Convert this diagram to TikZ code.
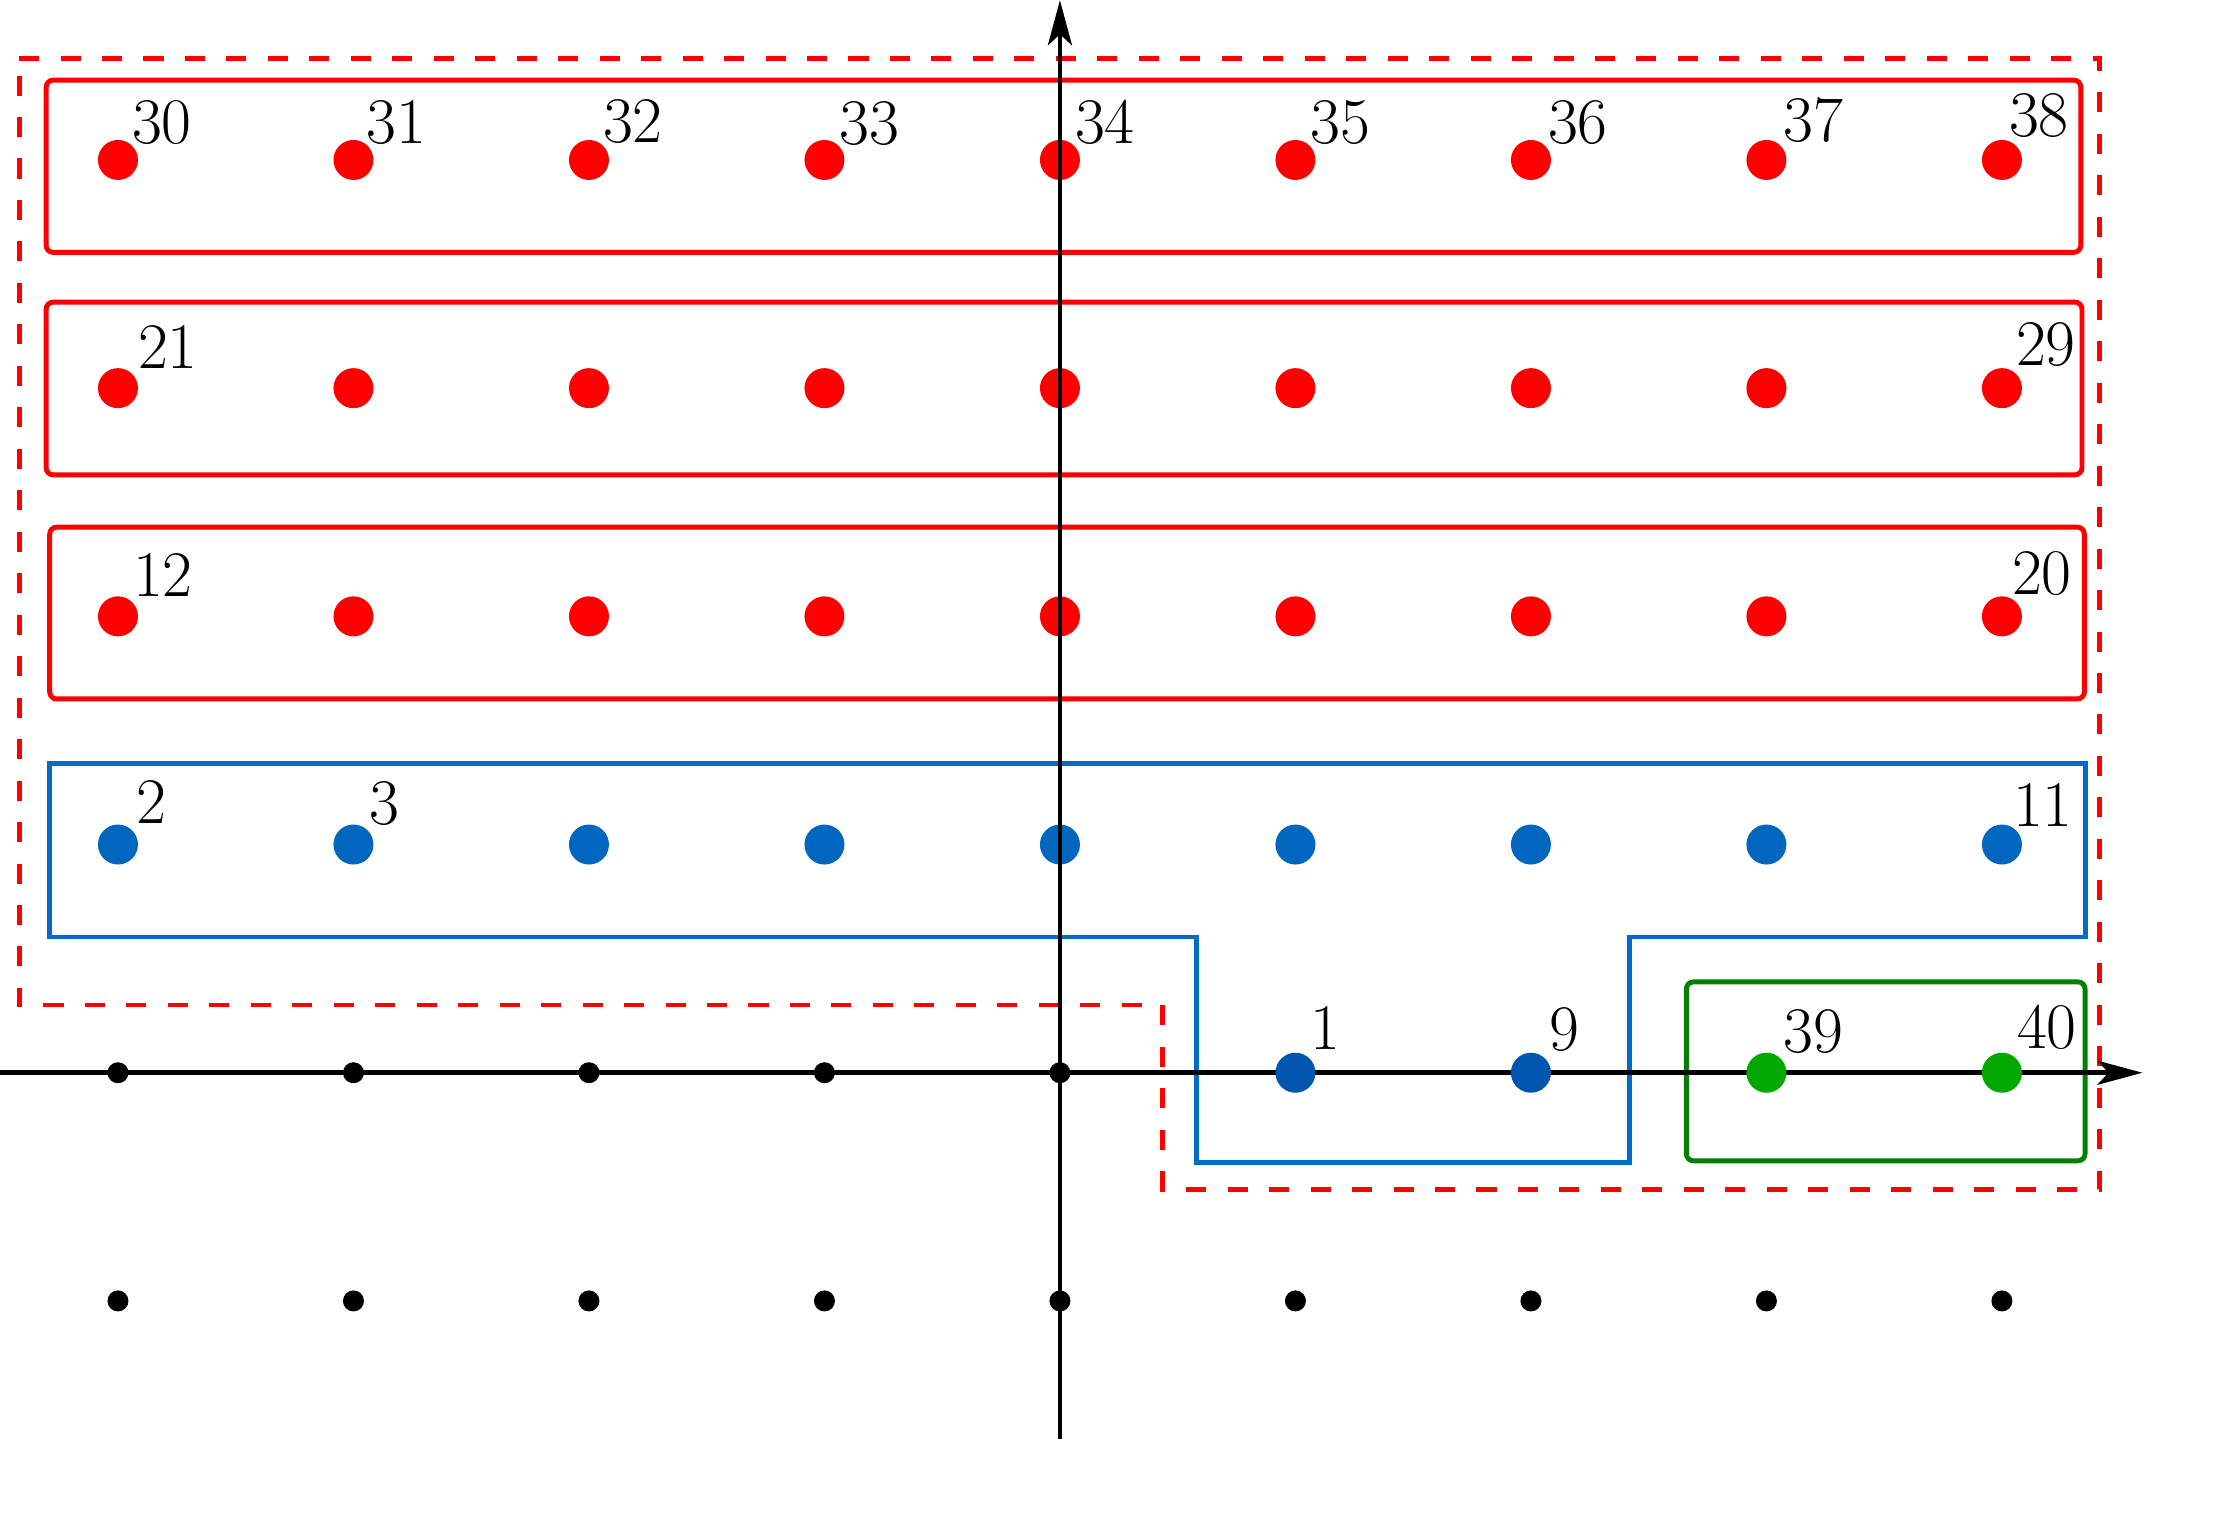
\documentclass[tikz,border=0pt]{standalone}
\usetikzlibrary{arrows.meta,calc}
\definecolor{dotblue}{RGB}{0,102,190}
\definecolor{dotblueb}{RGB}{0,85,175}
\definecolor{dotgreen}{RGB}{0,168,0}
\definecolor{boxgreen}{RGB}{0,128,0}
\definecolor{lineblue}{RGB}{0,108,200}
\begin{document}
\begin{tikzpicture}[x=2.355cm,y=2.282cm,
  dotbig/.style={circle,inner sep=0pt,minimum size=0.40cm},
  dotsmall/.style={circle,fill=black,inner sep=0pt,minimum size=0.21cm},
  redbox/.style={draw=red,line width=1.4pt,rounded corners=2pt},
  bluebox/.style={draw=lineblue,line width=1.4pt},
  greenbox/.style={draw=boxgreen,line width=1.4pt,rounded corners=2pt},
  reddash/.style={draw=red,line width=1.4pt,dash pattern=on 5.7pt off 6.1pt},
  lbl/.style={font=\fontsize{18.5}{22}\selectfont,inner sep=0pt},
  axisline/.style={line width=1.35pt,-{Stealth[length=4.5mm,width=2.4mm,inset=1.1mm]}}]
\useasboundingbox (-4.501,-1.960) rectangle (4.960,4.701);
% boxes
\draw[redbox] (-4.305,3.595) rectangle (4.335,4.350);
\draw[redbox] (-4.305,2.620) rectangle (4.340,3.377);
\draw[redbox] (-4.290,1.638) rectangle (4.350,2.391);
\draw[bluebox] (-4.292,1.357) -- (4.353,1.357) -- (4.353,0.595) -- (2.420,0.595)
  -- (2.420,-0.392) -- (0.579,-0.392) -- (0.579,0.595) -- (-4.292,0.595) -- cycle;
\draw[greenbox] (2.660,-0.386) rectangle (4.353,0.398);
\draw[reddash] (-4.420,4.446) -- (4.416,4.446) -- (4.416,-0.511) -- (0.437,-0.511)
  -- (0.437,0.297) -- (-4.420,0.297) -- cycle;
% x axis
\coordinate (xs) at (-4.50,0);
\coordinate (xe) at (4.597,0);
\draw[axisline] (xs) -- (xe);
% dots
\foreach \c in {0,...,8} {
  \node[dotbig,fill=red] (p\c5) at (\c-4,4) {};
  \node[dotbig,fill=red] (p\c4) at (\c-4,3) {};
  \node[dotbig,fill=red] (p\c3) at (\c-4,2) {};
  \node[dotbig,fill=dotblue] (p\c2) at (\c-4,1) {};
  \node[dotsmall] (p\c0) at (\c-4,-1) {};
}
\foreach \c in {0,...,4} { \node[dotsmall] (p\c1) at (\c-4,0) {}; }
\node[dotbig,fill=dotblueb] (p51) at (1,0) {};
\node[dotbig,fill=dotblueb] (p61) at (2,0) {};
\node[dotbig,fill=dotgreen] (p71) at (3,0) {};
\node[dotbig,fill=dotgreen] (p81) at (4,0) {};
% y axis
\coordinate (ys) at (0,-1.606);
\coordinate (ye) at (0,4.70);
\draw[axisline] (ys) -- (ye);
% labels
\node[lbl,xshift=0.44cm,yshift=0.37cm] (l30) at (p05) {30};
\node[lbl,xshift=0.43cm,yshift=0.37cm] (l31) at (p15) {31};
\node[lbl,xshift=0.44cm,yshift=0.38cm] (l32) at (p25) {32};
\node[lbl,xshift=0.45cm,yshift=0.36cm] (l33) at (p35) {33};
\node[lbl,xshift=0.45cm,yshift=0.38cm] (l34) at (p45) {34};
\node[lbl,xshift=0.45cm,yshift=0.37cm] (l35) at (p55) {35};
\node[lbl,xshift=0.47cm,yshift=0.37cm] (l36) at (p65) {36};
\node[lbl,xshift=0.47cm,yshift=0.40cm] (l37) at (p75) {37};
\node[lbl,xshift=0.37cm,yshift=0.44cm] (l38) at (p85) {38};
\node[lbl,xshift=0.50cm,yshift=0.41cm] (l21) at (p04) {21};
\node[lbl,xshift=0.44cm,yshift=0.44cm] (l29) at (p84) {29};
\node[lbl,xshift=0.45cm,yshift=0.41cm] (l12) at (p03) {12};
\node[lbl,xshift=0.40cm,yshift=0.43cm] (l20) at (p83) {20};
\node[lbl,xshift=0.33cm,yshift=0.43cm] (l2) at (p02) {2};
\node[lbl,xshift=0.31cm,yshift=0.41cm] (l3) at (p12) {3};
\node[lbl,xshift=0.41cm,yshift=0.40cm] (l11) at (p82) {11};
\node[lbl,xshift=0.30cm,yshift=0.45cm] (l1) at (p51) {1};
\node[lbl,xshift=0.33cm,yshift=0.43cm] (l9) at (p61) {9};
\node[lbl,xshift=0.47cm,yshift=0.41cm] (l39) at (p71) {39};
\node[lbl,xshift=0.45cm,yshift=0.45cm] (l40) at (p81) {40};
\end{tikzpicture}
\end{document}
